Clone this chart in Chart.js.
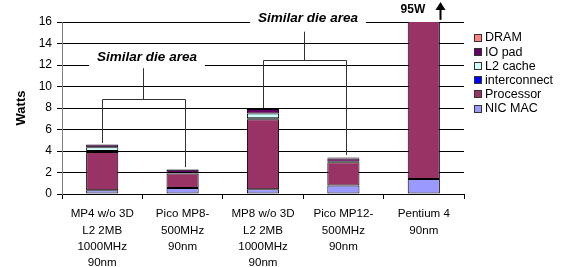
<!DOCTYPE html>
<html>
<head>
<meta charset="utf-8">
<script src="https://cdn.jsdelivr.net/npm/chart.js@4/dist/chart.umd.min.js"></script>
<style>
  html, body { margin: 0; padding: 0; background: #fff; }
  #wrap { width: 561px; height: 267px; }
</style>
</head>
<body>
<div id="wrap"><canvas id="c" width="561" height="267"></canvas></div>
<script>
// ---- data ----
const categories = [
  ["MP4 w/o 3D", "L2 2MB", "1000MHz", "90nm"],
  ["Pico MP8-", "500MHz", "90nm"],
  ["MP8 w/o 3D", "L2 2MB", "1000MHz", "90nm"],
  ["Pico MP12-", "500MHz", "90nm"],
  ["Pentium 4", "90nm"]
];
const nicMac       = [0.35, 0.55, 0.45, 0.8, 1.4];
const processor    = [3.55, 1.35, 6.5, 2.15, 93.6];
const interconnect = [0.1, 0.05, 0.1, 0.05, null];
const l2cache      = [0.35, null, 0.45, null, null];
const ioPad        = [0.25, 0.3, 0.4, 0.3, null];
const dram         = [null, 0.05, null, 0.1, null];
const yTicks = [0, 2, 4, 6, 8, 10, 12, 14, 16];

// annotation data (in axis units)
const bracketLabel = "Similar die area";
const brackets = [
  { left: 0, right: 1, legEnds: [4.75, 2.5], bar: 8.85, stemTop: 11.7, textY: 12.74 },
  { left: 2, right: 3, legEnds: [8.0, 3.63], bar: 12.47, stemTop: 15.1, textY: 16.34 }
];
const offScaleLabel = "95W";
const offScaleIndex = 4;

const FONT = "'Liberation Sans', Arial, sans-serif";

const annotPlugin = {
  id: 'annot',
  afterDraw(chart) {
    const ctx = chart.ctx, xs = chart.scales.x, ys = chart.scales.y;
    const cw = xs.getPixelForValue(1) - xs.getPixelForValue(0);
    const px = (i, f) => xs.getPixelForValue(i) + f * cw;
    ctx.save();
    ctx.font = "italic bold 13.5px " + FONT;
    brackets.forEach((b, k) => {
      const xl = Math.round(px(b.left, 0)) + 0.5;
      const xr = Math.round(px(b.right, 0.035)) + 0.5;
      const yb = Math.round(ys.getPixelForValue(b.bar)) + 0.5;
      const xm = Math.round((xl + xr) / 2 - 1.5) + 0.5;
      const tx = (xl + xr) / 2 + 3;
      const ty = ys.getPixelForValue(b.textY);
      const tw = ctx.measureText(bracketLabel).width;
      // white box behind text
      ctx.fillStyle = '#fff';
      ctx.fillRect(tx - tw / 2 - 8, ty - 10, tw + 16, 20);
      ctx.strokeStyle = '#333';
      ctx.lineWidth = 1;
      ctx.beginPath();
      ctx.moveTo(xl, ys.getPixelForValue(b.legEnds[0]));
      ctx.lineTo(xl, yb);
      ctx.lineTo(xr, yb);
      ctx.lineTo(xr, ys.getPixelForValue(b.legEnds[1]));
      ctx.moveTo(xm, yb);
      ctx.lineTo(xm, ys.getPixelForValue(b.stemTop));
      ctx.stroke();
      ctx.fillStyle = '#000';
      ctx.textAlign = 'center';
      ctx.textBaseline = 'middle';
      ctx.fillText(bracketLabel, tx, ty);
    });
    // 95W label with arrow
    ctx.font = "bold 12px " + FONT;
    ctx.textAlign = 'center';
    ctx.textBaseline = 'middle';
    ctx.fillStyle = '#000';
    ctx.fillText(offScaleLabel, px(offScaleIndex, -0.135), ys.getPixelForValue(17.1));
    const ax = Math.round(px(offScaleIndex, 0.2)) + 0.5;
    const ab = ys.getPixelForValue(16.2), at = ys.getPixelForValue(17.86);
    ctx.strokeStyle = '#000';
    ctx.lineWidth = 2;
    ctx.beginPath();
    ctx.moveTo(ax, ab);
    ctx.lineTo(ax, at + 7);
    ctx.stroke();
    ctx.beginPath();
    ctx.moveTo(ax, at);
    ctx.lineTo(ax - 5, at + 8);
    ctx.lineTo(ax + 5, at + 8);
    ctx.closePath();
    ctx.fill();
    // legend (top item = last dataset)
    ctx.font = "12.5px " + FONT;
    ctx.textAlign = 'left';
    ctx.textBaseline = 'middle';
    ctx.lineWidth = 1;
    const ds = chart.data.datasets.slice().reverse();
    ds.forEach((d, i) => {
      const y = 37.5 + i * 14.2;
      ctx.fillStyle = d.backgroundColor;
      ctx.fillRect(474, Math.round(y - 4), 8, 8);
      ctx.strokeStyle = '#333';
      ctx.strokeRect(474.5, Math.round(y - 4) + 0.5, 7, 7);
      ctx.fillStyle = '#000';
      ctx.fillText(d.label, 485, y + 0.5);
    });
    ctx.restore();
  }
};

const mk = (label, data, color) => ({
  label, data, backgroundColor: color, borderColor: '#000', borderWidth: 1,
  barPercentage: 0.4, categoryPercentage: 1.0, borderSkipped: false
});

new Chart(document.getElementById('c'), {
  type: 'bar',
  data: {
    labels: categories,
    datasets: [
      mk('NIC MAC', nicMac, '#9999FF'),
      mk('Processor', processor, '#993366'),
      mk('interconnect', interconnect, '#0000FF'),
      mk('L2 cache', l2cache, '#CCFFFF'),
      mk('IO pad', ioPad, '#660066'),
      mk('DRAM', dram, '#FF8080')
    ]
  },
  plugins: [annotPlugin],
  options: {
    responsive: false,
    animation: false,
    devicePixelRatio: 1,
    layout: { padding: { left: 0, top: 22, right: 97, bottom: 0 } },
    plugins: { legend: { display: false }, tooltip: { enabled: false } },
    scales: {
      x: {
        stacked: true,
        grid: { display: true, drawOnChartArea: false, drawTicks: true, tickLength: 5, color: '#000', offset: true },
        border: { display: true, color: '#000', width: 1 },
        ticks: { color: '#000', font: { family: FONT, size: 11.6, lineHeight: 1.41 }, padding: 7, maxRotation: 0, autoSkip: false },
        afterFit(s) { s.height = 73; }
      },
      y: {
        stacked: true,
        min: 0, max: 16,
        afterBuildTicks(s) { s.ticks = yTicks.map(v => ({ value: v })); },
        grid: { color: '#000', lineWidth: 1, tickLength: 5, drawTicks: true },
        border: { display: true, color: '#808080', width: 1 },
        ticks: { color: '#000', font: { family: FONT, size: 12 }, padding: 5 },
        title: { display: true, text: 'Watts', color: '#000', font: { family: FONT, size: 13, weight: 'bold' }, padding: { top: 14, bottom: 0 } },
        afterFit(s) { s.width = 62; }
      }
    }
  }
});
</script>
</body>
</html>
